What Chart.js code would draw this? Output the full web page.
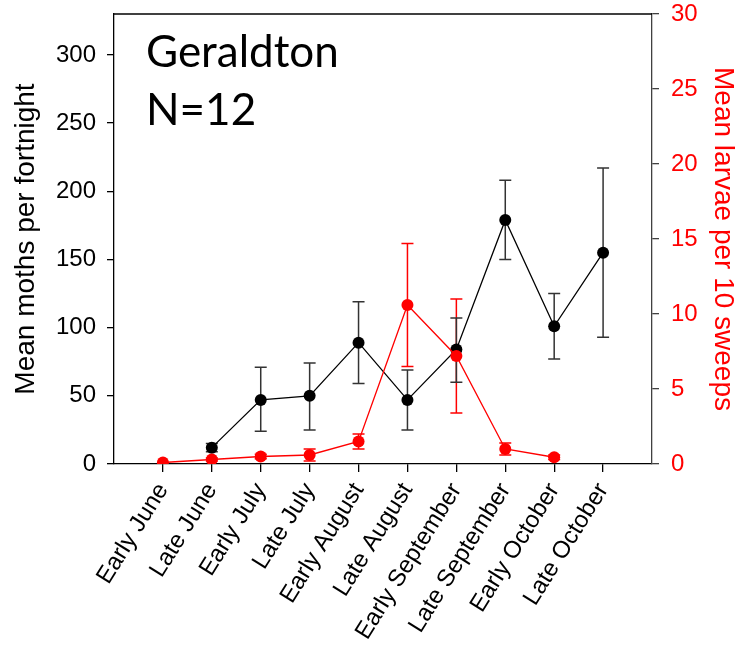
<!DOCTYPE html>
<html>
<head>
<meta charset="utf-8">
<script src="https://cdn.jsdelivr.net/npm/chart.js@4"></script>
<style>
  body { margin: 0; background: #fff; }
  canvas { display: block; }
</style>
</head>
<body>
<canvas id="chart" width="742" height="646"></canvas>
<script>
// fortnight periods along the bottom
const categories = ['Early June', 'Late June', 'Early July', 'Late July', 'Early August',
  'Late August', 'Early September', 'Late September', 'Early October', 'Late October'];

// moths (left axis)
const mothMean = [null, 12, 47, 50, 89, 47, 84, 179, 101, 155];
const mothLow  = [null, 9, 24, 25, 59, 25, 60, 150, 77, 93];
const mothHigh = [null, 15, 71, 74, 119, 69, 107, 208, 125, 217];

// larvae (right axis)
const larvaeMean = [0.1, 0.3, 0.5, 0.6, 1.5, 10.6, 7.2, 1.0, 0.45, null];
const larvaeLow  = [null, 0.2, 0.35, 0.2, 1.0, 6.5, 3.4, 0.6, 0.3, null];
const larvaeHigh = [null, 0.4, 0.65, 1.0, 2.0, 14.7, 11.0, 1.4, 0.6, null];

const siteName = 'Geraldton';
const sampleText = 'N=12';
const leftTitle = 'Mean moths per fortnight';
const rightTitle = 'Mean larvae per 10 sweeps';

function toPoints(vals) {
  return vals.map((v, i) => ({ x: i, y: v }));
}

// draws the error bars off the dataset's own scales
const errorBars = {
  id: 'errorBars',
  beforeDatasetsDraw(chart) {
    const ctx = chart.ctx;
    const xs = chart.scales.x;
    chart.data.datasets.forEach((ds) => {
      const ys = chart.scales[ds.yAxisID];
      ctx.save();
      ctx.strokeStyle = ds.errColor;
      ctx.lineWidth = 1.5;
      ds.errLow.forEach((lo, i) => {
        const hi = ds.errHigh[i];
        if (lo == null || hi == null) return;
        const px = xs.getPixelForValue(i);
        const y1 = ys.getPixelForValue(lo);
        const y2 = ys.getPixelForValue(hi);
        ctx.beginPath();
        ctx.moveTo(px, y1); ctx.lineTo(px, y2);
        ctx.moveTo(px - 6, y1); ctx.lineTo(px + 6, y1);
        ctx.moveTo(px - 6, y2); ctx.lineTo(px + 6, y2);
        ctx.stroke();
      });
      ctx.restore();
    });
  },
  afterDraw(chart) {
    const ctx = chart.ctx;
    const a = chart.chartArea;
    ctx.save();
    // top edge of the frame
    ctx.strokeStyle = '#000';
    ctx.lineWidth = 1.3;
    ctx.beginPath();
    ctx.moveTo(a.left, a.top); ctx.lineTo(a.right, a.top);
    ctx.stroke();
    // label inside the plot
    ctx.fillStyle = '#000';
    ctx.font = '44px Lato';
    ctx.textBaseline = 'alphabetic';
    ctx.fillText(siteName, a.left + 32, a.top + 53);
    ctx.fillText(sampleText, a.left + 32, a.top + 111);
    ctx.restore();
  }
};

// y axes should not push the plot down for their top label
function noLabelPad(scale) {
  scale.paddingTop = 0;
  scale.paddingBottom = 0;
}

new Chart(document.getElementById('chart'), {
  type: 'line',
  data: {
    datasets: [
      {
        label: 'larvae',
        data: toPoints(larvaeMean),
        yAxisID: 'y2',
        borderColor: '#ff0000',
        backgroundColor: '#ff0000',
        pointBackgroundColor: '#ff0000',
        pointBorderColor: '#ff0000',
        borderWidth: 1.3,
        pointRadius: 6,
        pointBorderWidth: 0,
        errLow: larvaeLow,
        errHigh: larvaeHigh,
        errColor: '#ff0000',
        order: 0
      },
      {
        label: 'moths',
        data: toPoints(mothMean),
        yAxisID: 'y',
        borderColor: '#000',
        backgroundColor: '#000',
        pointBackgroundColor: '#000',
        pointBorderColor: '#000',
        borderWidth: 1.3,
        pointRadius: 6,
        pointBorderWidth: 0,
        errLow: mothLow,
        errHigh: mothHigh,
        errColor: '#333',
        order: 1
      }
    ]
  },
  options: {
    responsive: false,
    animation: false,
    layout: { padding: { top: 14, left: 0, right: 0, bottom: 0 } },
    plugins: {
      legend: { display: false },
      tooltip: { enabled: false }
    },
    scales: {
      x: {
        type: 'linear',
        min: -1,
        max: 10,
        afterBuildTicks(scale) {
          scale.ticks = categories.map((c, i) => ({ value: i }));
        },
        afterFit(scale) { scale.height = 182; },
        grid: { drawOnChartArea: false, tickLength: 8, tickColor: '#000', lineWidth: 1.3 },
        border: { color: '#000', width: 1.3 },
        ticks: {
          autoSkip: false,
          minRotation: 58,
          maxRotation: 58,
          padding: 6,
          color: '#000',
          font: { family: 'Liberation Sans', size: 24 },
          callback: (v) => categories[v]
        }
      },
      y: {
        position: 'left',
        min: 0,
        max: 330,
        afterFit(scale) { scale.width = 114; noLabelPad(scale); },
        grid: { drawOnChartArea: false, tickLength: 7, tickColor: '#000', lineWidth: 1.3 },
        border: { color: '#000', width: 1.3 },
        ticks: {
          stepSize: 50,
          includeBounds: false,
          padding: 11,
          color: '#000',
          font: { family: 'Liberation Sans', size: 24 }
        },
        title: {
          display: true,
          text: leftTitle,
          color: '#000',
          padding: { top: 9, bottom: 2 },
          font: { family: 'Liberation Sans', size: 28 }
        }
      },
      y2: {
        position: 'right',
        min: 0,
        max: 30,
        afterFit(scale) { scale.width = 90; noLabelPad(scale); },
        grid: { drawOnChartArea: false, tickLength: 7, tickColor: '#404040', lineWidth: 1.3 },
        border: { color: '#404040', width: 1.3 },
        ticks: {
          stepSize: 5,
          padding: 12,
          color: '#ff0000',
          font: { family: 'Liberation Sans', size: 24 }
        },
        title: {
          display: true,
          text: rightTitle,
          color: '#ff0000',
          padding: { top: 2, bottom: 4 },
          font: { family: 'Liberation Sans', size: 28 }
        }
      }
    }
  },
  plugins: [errorBars]
});
</script>
</body>
</html>
